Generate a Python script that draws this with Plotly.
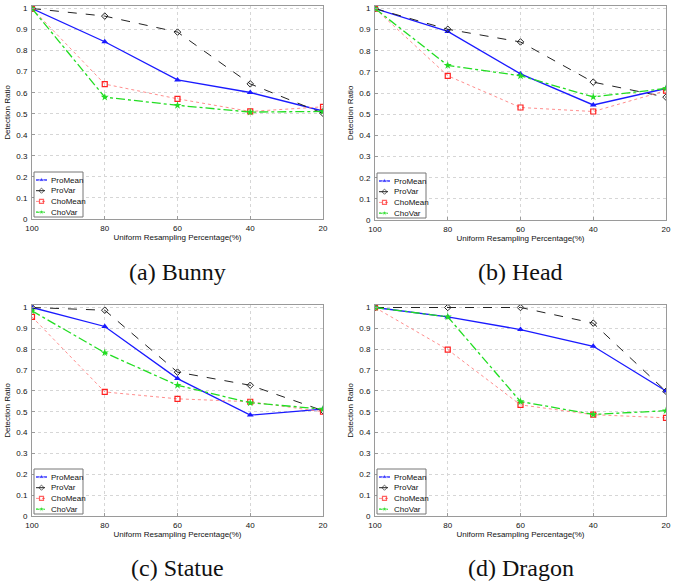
import plotly.graph_objects as go

x_pct = [100, 80, 60, 40, 20]
series_names = ["ProMean", "ProVar", "ChoMean", "ChoVar"]

bunny_promean = [1.0, 0.842, 0.661, 0.601, 0.513]
bunny_provar = [1.0, 0.964, 0.888, 0.642, 0.502]
bunny_chomean = [1.0, 0.641, 0.571, 0.511, 0.533]
bunny_chovar = [1.0, 0.579, 0.540, 0.508, 0.511]

head_promean = [1.0, 0.892, 0.691, 0.544, 0.622]
head_provar = [1.0, 0.902, 0.842, 0.652, 0.581]
head_chomean = [1.0, 0.682, 0.532, 0.513, 0.612]
head_chovar = [1.0, 0.731, 0.682, 0.582, 0.622]

statue_promean = [1.0, 0.909, 0.659, 0.484, 0.513]
statue_provar = [1.0, 0.987, 0.690, 0.627, 0.505]
statue_chomean = [0.955, 0.595, 0.562, 0.548, 0.500]
statue_chovar = [0.984, 0.783, 0.627, 0.543, 0.513]

dragon_promean = [1.0, 0.955, 0.894, 0.814, 0.600]
dragon_provar = [1.0, 1.0, 1.0, 0.925, 0.598]
dragon_chomean = [1.0, 0.798, 0.533, 0.486, 0.471]
dragon_chovar = [1.0, 0.955, 0.549, 0.487, 0.505]

captions = ["(a) Bunny", "(b) Head", "(c) Statue", "(d) Dragon"]
y_tickvals = [0, 0.1, 0.2, 0.3, 0.4, 0.5, 0.6, 0.7, 0.8, 0.9, 1.0]
y_ticktext = ["0", "0.1", "0.2", "0.3", "0.4", "0.5", "0.6", "0.7", "0.8", "0.9", "1"]
x_ticktext = ["100", "80", "60", "40", "20"]

panels = [
    [bunny_promean, bunny_provar, bunny_chomean, bunny_chovar],
    [head_promean, head_provar, head_chomean, head_chovar],
    [statue_promean, statue_provar, statue_chomean, statue_chovar],
    [dragon_promean, dragon_provar, dragon_chomean, dragon_chovar],
]

styles = [
    dict(line=dict(color="#1a1aff", width=1.3, dash="solid"),
         marker=dict(symbol="triangle-up", size=6, color="#1a1aff")),
    dict(line=dict(color="#222222", width=1.0, dash="dash"),
         marker=dict(symbol="diamond-open", size=5, color="#222222", line=dict(width=1))),
    dict(line=dict(color="#ff8080", width=0.9, dash="dot"),
         marker=dict(symbol="square-open", size=5, color="#ff2020", line=dict(width=1.2))),
    dict(line=dict(color="#22dd22", width=1.3, dash="dashdot"),
         marker=dict(symbol="star", size=6, color="#22dd22")),
]

W, H = 676, 584
# plot frames in pixels: (left, right, top, bottom)
frames = [(32, 323, 6, 219), (375, 666, 6, 220), (32, 323, 305, 516), (375, 666, 305, 516)]

fig = go.Figure()
font_fam = "Liberation Sans, Arial, sans-serif"
shapes = []

for i, (vals, fr) in enumerate(zip(panels, frames)):
    k = i + 1
    xa = "x" if k == 1 else f"x{k}"
    ya = "y" if k == 1 else f"y{k}"
    for name, v, st in zip(series_names, vals, styles):
        fig.add_trace(go.Scatter(x=x_pct, y=v, name=name, mode="lines+markers",
                                 xaxis=xa, yaxis=ya, showlegend=False,
                                 line=st["line"], marker=st["marker"]))
    l, r, t, b = fr
    xdom = [l / W, r / W]
    ydom = [1 - b / H, 1 - t / H]
    axcommon = dict(showline=True, mirror=True, linecolor="#9a9a9a", linewidth=1,
                    ticks="inside", ticklen=3, tickcolor="#9a9a9a",
                    showgrid=True, gridcolor="#d6d6d6", griddash="dot", gridwidth=1,
                    zeroline=False, automargin=False,
                    tickfont=dict(family=font_fam, size=8, color="#111"))
    xkey = "xaxis" if k == 1 else f"xaxis{k}"
    ykey = "yaxis" if k == 1 else f"yaxis{k}"
    fig.layout[xkey] = dict(domain=xdom, range=[100, 20], anchor=ya,
                            tickvals=x_pct, ticktext=x_ticktext, ticklabelstandoff=1,
                            title=dict(text="Uniform Resampling Percentage(%)",
                                       font=dict(family=font_fam, size=8, color="#111"),
                                       standoff=1),
                            **axcommon)
    fig.layout[ykey] = dict(domain=ydom, range=[0, 1.012], anchor=xa,
                            tickvals=y_tickvals, ticktext=y_ticktext, ticklabelstandoff=2,
                            title=dict(text="Detection Ratio",
                                       font=dict(family=font_fam, size=8, color="#111"),
                                       standoff=4),
                            **axcommon)

    # custom compact legend (drawn on a full-page pixel overlay axis)
    bx0, bx1, by0, by1 = l + 2, l + 51, b - 47, b - 2
    shapes.append(dict(type="rect", xref="x5", yref="y5", x0=bx0, x1=bx1, y0=by0, y1=by1,
                       line=dict(color="#777", width=1), fillcolor="white", layer="between"))
    for j, (name, st) in enumerate(zip(series_names, styles)):
        yy = by0 + 8 + j * 10.7
        fig.add_trace(go.Scatter(x=[bx0 + 2, bx0 + 7.5, bx0 + 13], y=[yy, yy, yy],
                                 mode="lines+markers", xaxis="x5", yaxis="y5", showlegend=False,
                                 hoverinfo="skip", line=st["line"],
                                 marker=dict(st["marker"], size=[0, st["marker"]["size"] - 1, 0])))
        fig.add_annotation(text=name, x=bx0 + 15, y=yy, xref="x5", yref="y5",
                           showarrow=False, xanchor="left", yanchor="middle",
                           font=dict(family=font_fam, size=8, color="#111"))

    cx = (l + r) / 2 / W
    cy = 1 - (272 if k <= 2 else 568) / H
    fig.add_annotation(text=captions[i], x=cx, y=cy, xref="paper", yref="paper",
                       showarrow=False, xanchor="center", yanchor="middle",
                       font=dict(family="Liberation Serif, Times New Roman, serif", size=24, color="#111"))

fig.layout["xaxis5"] = dict(domain=[0, 1], range=[0, W], visible=False, fixedrange=True, anchor="y5")
fig.layout["yaxis5"] = dict(domain=[0, 1], range=[H, 0], visible=False, fixedrange=True, anchor="x5")

fig.update_layout(width=W, height=H, margin=dict(l=0, r=0, t=0, b=0),
                  paper_bgcolor="white", plot_bgcolor="rgba(0,0,0,0)", showlegend=False,
                  shapes=shapes)

fig.write_html("out.html", config={"displayModeBar": False},
               post_script="document.body.style.margin='0';document.body.style.overflow='hidden';")
